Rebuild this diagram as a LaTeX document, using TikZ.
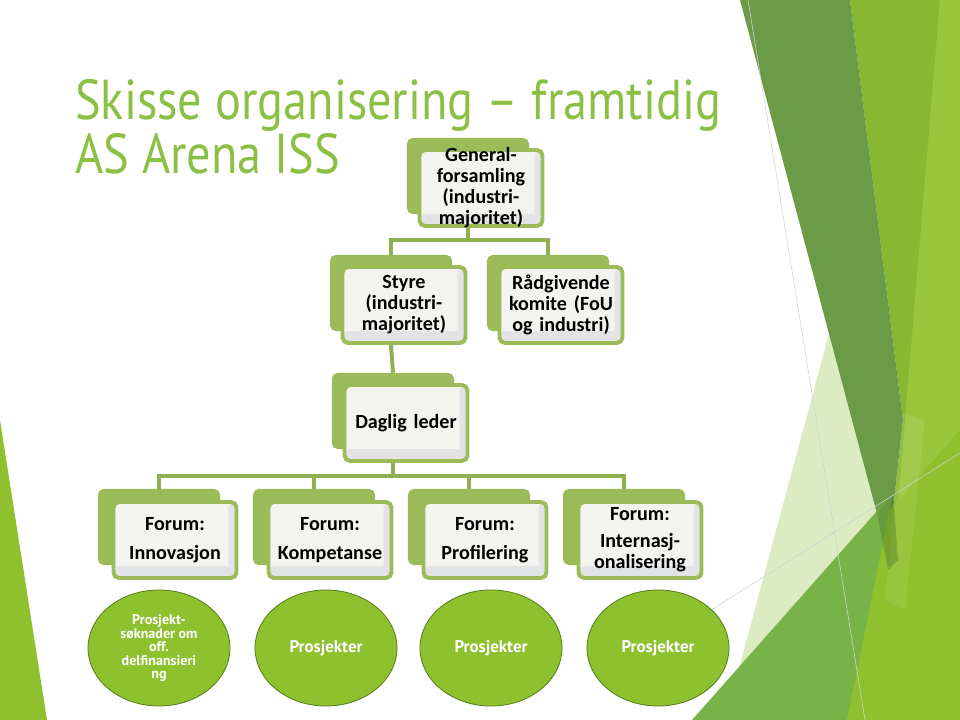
\documentclass[tikz,border=0pt]{standalone}
\usepackage{fontspec}
\setmainfont{Carlito}
\newfontfamily\tittelfont[FakeStretch=0.86]{PT Sans}
\newfontfamily\ellfont{PT Sans}
\usetikzlibrary{shapes.geometric}
\definecolor{tittelgronn}{HTML}{8CC044}
\definecolor{boksgronn}{HTML}{9BBB59}
\definecolor{linjegronn}{HTML}{8FB052}
\definecolor{frontfyll}{HTML}{F3F4F0}
\definecolor{frontskygge}{HTML}{E2E3E5}
\definecolor{ellgronn}{HTML}{8DC12D}
\definecolor{ellkant}{HTML}{557F1C}
\definecolor{morkgronn}{HTML}{6B9B47}
\definecolor{midgronn}{HTML}{88B832}
\definecolor{lysgronn}{HTML}{98C73E}
\definecolor{gulgronn}{HTML}{8FC12E}
\definecolor{bunngronn}{HTML}{78B347}
\definecolor{blekgronn}{HTML}{DDEBC2}

\begin{document}
\begin{tikzpicture}[x=0.025cm,y=-0.025cm,
tittel/.style={anchor=base west,inner sep=0pt,text=tittelgronn,font=\tittelfont\fontsize{40}{40}\selectfont},
bak/.style={rectangle,rounded corners=4pt,fill=boksgronn,minimum width=3.05cm,minimum height=1.9cm,inner sep=0pt},
boks/.style={rectangle,rounded corners=4pt,draw=boksgronn,line width=2.8pt,fill=frontfyll,
  path picture={\fill[frontskygge] (path picture bounding box.south west) rectangle ([yshift=0.3cm]path picture bounding box.south east);
  \fill[frontskygge] ([xshift=-0.2cm]path picture bounding box.south east) rectangle (path picture bounding box.north east);},
  minimum width=3.075cm,minimum height=1.9cm,text width=2.9cm,align=center,inner xsep=1pt,inner ysep=-3.5pt,font=\bfseries\fontsize{14.3}{15}\selectfont},
lenke/.style={draw=linjegronn,line width=2.8pt},
ell/.style={ellipse,fill=ellgronn,draw=ellkant,line width=0.6pt,minimum width=3.55cm,minimum height=2.9cm,inner sep=0pt,text=white,align=center,font=\ellfont\bfseries\fontsize{12}{13}\selectfont},
tynn/.style={draw=gray!35,line width=0.4pt}]
\useasboundingbox (0,0) rectangle (960,720);

\fill[gulgronn] (0,420) -- (47,720) -- (0,720) -- cycle;
\fill[blekgronn] (830,330) -- (935,720) -- (725,720) -- cycle;
\fill[midgronn] (850,0) -- (960,0) -- (960,720) -- (847,720) -- (888,555) -- (903,420) -- cycle;
\fill[morkgronn] (740,0) -- (850,0) -- (903,420) -- (888,555) -- cycle;
\fill[lysgronn] (940,0) -- (960,0) -- (960,720) -- (880,720) -- cycle;
\fill[gulgronn] (887,513) -- (960,430) -- (960,720) -- (847,720) -- cycle;
\fill[white,opacity=0.08] (903,413) -- (925,420) -- (905,610) -- (885,600) -- cycle;
\fill[bunngronn] (692,720) -- (893,493) -- (847,720) -- cycle;
\fill[black!40!bunngronn,opacity=0.35] (877,513) -- (893,493) -- (898,560) -- (888,570) -- cycle;
\draw[tynn] (748,0) -- (865,720);
\draw[tynn] (700,617) -- (960,453);

\node[tittel] (t1) at (75,120) {Skisse organisering – framtidig};
\node[tittel] (t2) at (75,174) {AS Arena ISS};

\node[bak] (gf-b) at (468,176) {};
\node[boks] (gf) at (481,188) {General-\\forsamling\\(industri-\\majoritet)};
\node[bak] (styre-b) at (391,293) {};
\node[boks] (styre) at (404,305) {Styre\\(industri-\\majoritet)};
\node[bak] (radg-b) at (548,293) {};
\node[boks] (radg) at (561,305) {Rådgivende\\komite (FoU\\og industri)};
\node[bak] (dl-b) at (393,411) {};
\node[boks] (dl) at (406,423) {Daglig leder};

\node[bak] (f1-b) at (159,527) {};
\node[boks] (f1) at (175,540) {Forum:\\[6pt]Innovasjon};
\node[bak] (f2-b) at (314,527) {};
\node[boks] (f2) at (330,540) {Forum:\\[6pt]Kompetanse};
\node[bak] (f3-b) at (469,527) {};
\node[boks] (f3) at (485,540) {Forum:\\[6pt]Profilering};
\node[bak] (f4-b) at (624,527) {};
\node[boks] (f4) at (640,540) {Forum:\\[4pt]Internasj-\\onalisering};

\node[ell,font=\ellfont\bfseries\fontsize{10}{9.6}\selectfont] (p1) at (159,648) {Prosjekt-\\søknader om\\off.\\delfinansieri\\ng};
\node[ell] (p2) at (326,648) {Prosjekter};
\node[ell] (p3) at (491,648) {Prosjekter};
\node[ell] (p4) at (658,648) {Prosjekter};

\draw[lenke] (gf.south -| gf-b.center) -- ++(0,12) coordinate (j1);
\draw[lenke] (styre-b.north) |- (j1) -| (radg-b.north);
\draw[lenke] (styre.south -| styre-b.center) -- (dl-b.north);
\draw[lenke] (dl.south -| dl-b.center) -- ++(0,13) coordinate (j2);
\draw[lenke] (f1-b.north) |- (j2) -| (f4-b.north);
\draw[lenke] (f2-b.north) -- (f2-b.north |- j2);
\draw[lenke] (f3-b.north) -- (f3-b.north |- j2);
\end{tikzpicture}
\end{document}
